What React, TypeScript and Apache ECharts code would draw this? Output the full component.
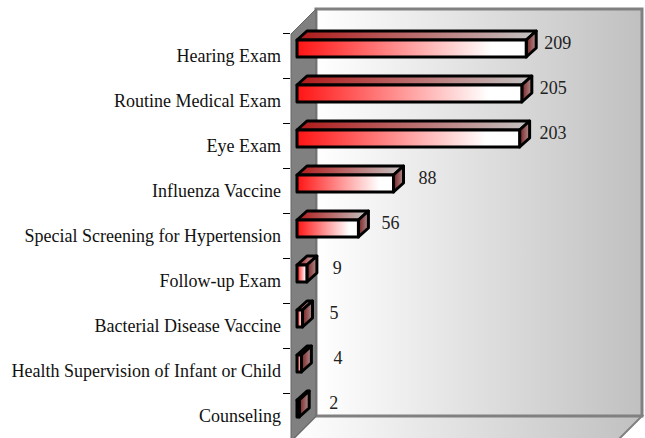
import React, { useEffect, useRef } from "react";
import * as echarts from "echarts";

const categories = [
  "Hearing Exam",
  "Routine Medical Exam",
  "Eye Exam",
  "Influenza Vaccine",
  "Special Screening for Hypertension",
  "Follow-up Exam",
  "Bacterial Disease Vaccine",
  "Health Supervision of Infant or Child",
  "Counseling",
];
const counts = [209, 205, 203, 88, 56, 9, 5, 4, 2];
// Horizontal gap between each bar's front face and its value label.
const labelGaps = [18, 18, 20, 25, 23, 26, 27, 32, 30];

const FONT = "'Liberation Serif', 'Times New Roman', serif";
const DX = 10;
const DY = 9;
const HALF = 8.5;
const LIFT = 7;

const grad = (stops: [number, string][]) =>
  new echarts.graphic.LinearGradient(
    0, 0, 1, 0,
    stops.map(([offset, color]) => ({ offset, color }))
  );

const renderBar = (params: any, api: any) => {
  const v = api.value(0);
  const idx = api.value(1);
  const [x1, cy] = api.coord([v, idx]);
  const [x0] = api.coord([0, idx]);
  const t = cy - LIFT - HALF;
  const b = cy - LIFT + HALF;
  const bandTop = Math.round(cy - api.size([0, 1])[1] / 2) + 0.5;
  const stroke = { stroke: "#000", lineWidth: 3, lineJoin: "round" };
  return {
    type: "group",
    children: [
      {
        type: "line",
        shape: { x1: x0 - 14, y1: bandTop, x2: x0 - 7, y2: bandTop },
        style: { stroke: "#000", lineWidth: 1 },
      },
      {
        type: "polygon",
        shape: { points: [[x0, t], [x0 + DX, t - DY], [x1 + DX, t - DY], [x1, t]] },
        style: { fill: grad([[0, "#b01818"], [1, "#c4c4c4"]]), ...stroke },
      },
      {
        type: "polygon",
        shape: { points: [[x1, t], [x1 + DX, t - DY], [x1 + DX, b - DY], [x1, b]] },
        style: { fill: grad([[0, "#7a2020"], [1, "#b09090"]]), ...stroke },
      },
      {
        type: "rect",
        shape: { x: x0, y: t, width: x1 - x0, height: b - t },
        style: {
          fill: grad([[0, "#ff1414"], [0.5, "#ffa0a0"], [0.85, "#ffffff"], [1, "#ffffff"]]),
          ...stroke,
        },
      },
      {
        type: "text",
        style: {
          text: String(v),
          x: x1 + labelGaps[params.dataIndex],
          y: cy - LIFT - 6,
          fill: "#222",
          font: `18px ${FONT}`,
          textAlign: "left",
          textVerticalAlign: "middle",
        },
      },
    ],
  };
};

export default function App() {
  const ref = useRef<HTMLDivElement>(null);
  useEffect(() => {
    const chart = echarts.init(ref.current!, null, { renderer: "svg" });
    const wallFill = new echarts.graphic.LinearGradient(0, 0, 1, 0, [
      { offset: 0, color: "#ffffff" },
      { offset: 1, color: "#c0c0c0" },
    ]);
    chart.setOption({
      animation: false,
      backgroundColor: "#ffffff",
      graphic: [
        {
          type: "polygon",
          z: -5,
          shape: { points: [[316, 416], [642, 416], [617, 441], [291, 441]] },
          style: { fill: wallFill, stroke: "#808080", lineWidth: 2 },
        },
        {
          type: "rect",
          z: -4,
          shape: { x: 316, y: 9, width: 326, height: 407 },
          style: { fill: wallFill, stroke: "#808080", lineWidth: 3 },
        },
        {
          type: "polygon",
          z: -3,
          shape: { points: [[291, 34], [316, 9], [316, 416], [291, 441]] },
          style: { fill: "#808080", stroke: "#666666", lineWidth: 1 },
        },
      ],
      grid: { left: 297, top: 33, width: 329, height: 407, containLabel: false },
      xAxis: { type: "value", min: 0, max: 300, show: false },
      yAxis: {
        type: "category",
        data: categories,
        inverse: true,
        offset: 7,
        axisLine: { show: false },
        axisTick: { show: false },
        axisLabel: {
          margin: 9,
          fontFamily: FONT,
          fontSize: 18,
          color: "#111",
          interval: 0,
          padding: [6, 0, 0, 0],
        },
      },
      series: [
        {
          type: "custom",
          renderItem: renderBar,
          clip: false,
          silent: true,
          encode: { x: 0, y: 1 },
          data: counts.map((c, i) => [c, i]),
        },
      ],
    });
    return () => chart.dispose();
  }, []);
  return (
    <div
      ref={ref}
      style={{ position: "fixed", left: 0, top: 0, width: 645, height: 438 }}
    />
  );
}
